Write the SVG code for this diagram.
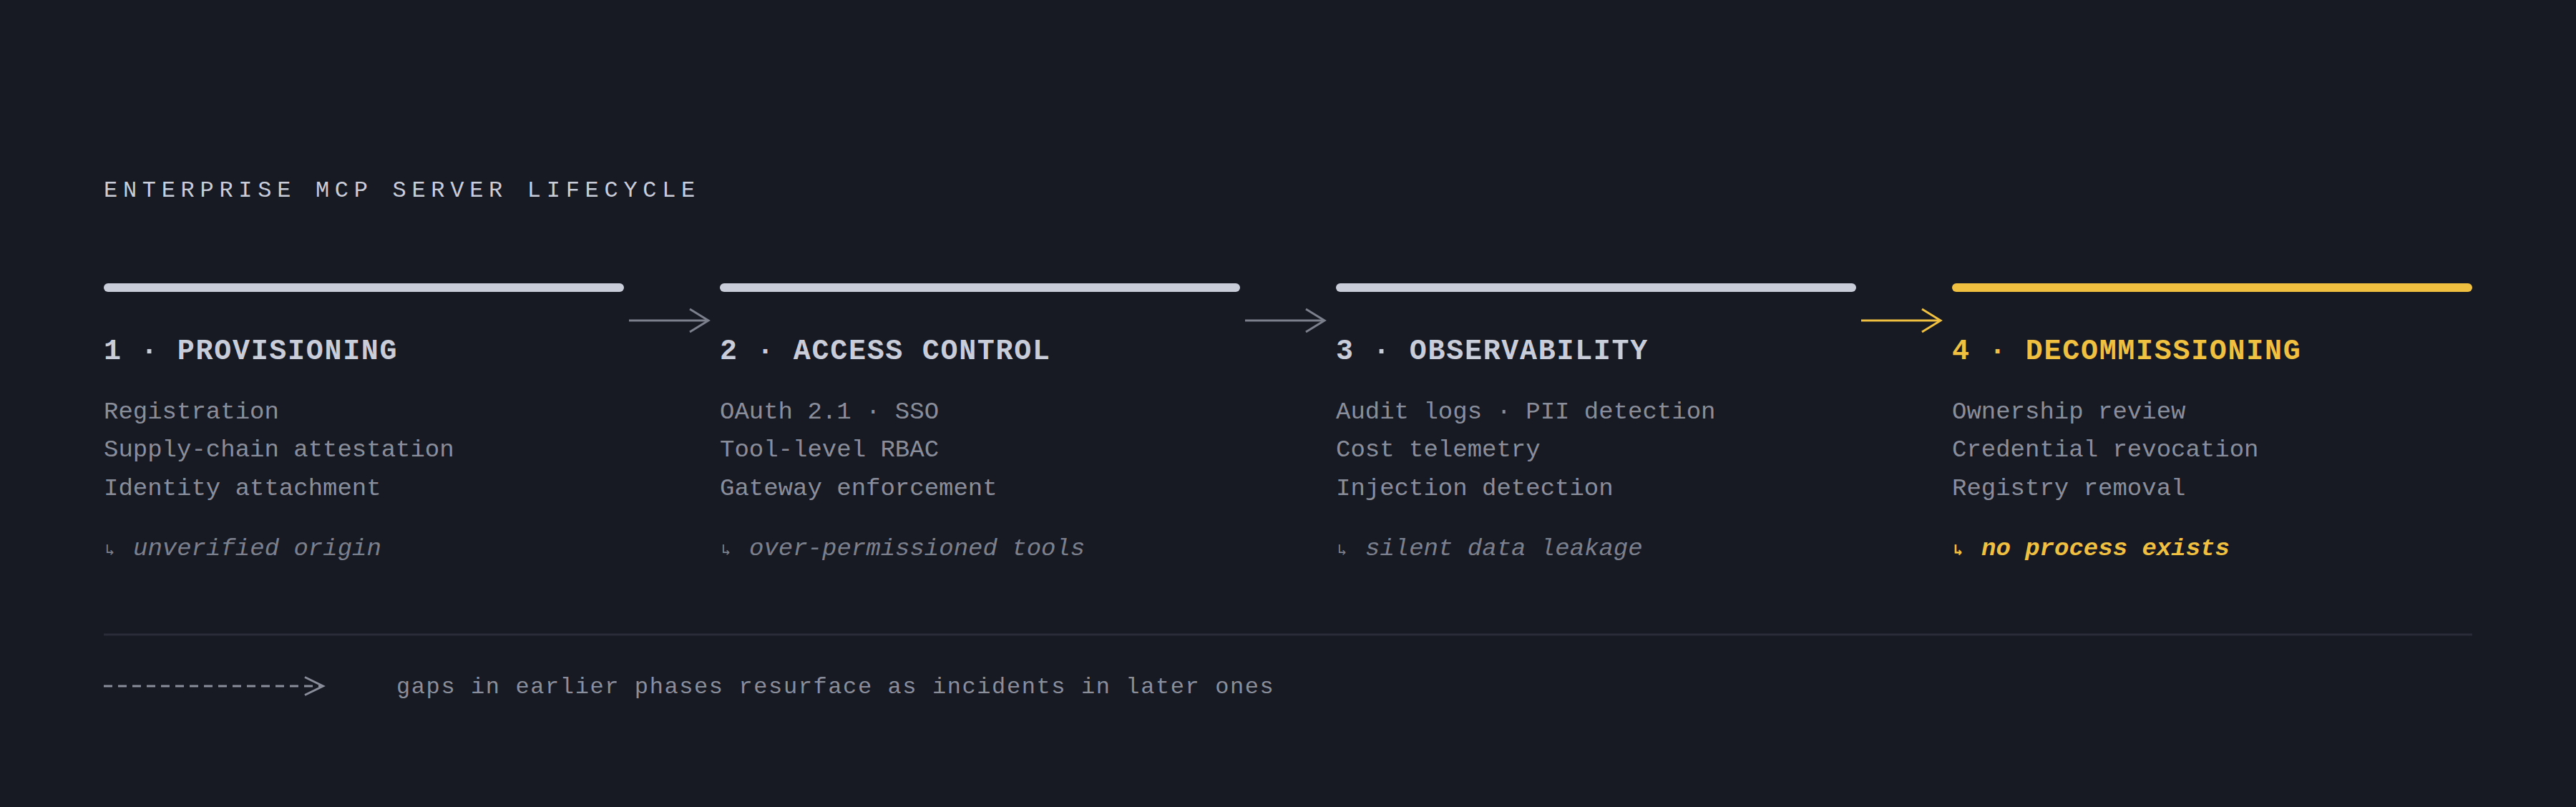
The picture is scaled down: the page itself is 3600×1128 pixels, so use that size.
<svg xmlns="http://www.w3.org/2000/svg" width="3600" height="1128" viewBox="0 0 3600 1128">
  <style>
    .mono { font-family: "Liberation Mono", "DejaVu Sans Mono", monospace; }
    .title { font-size: 32px; letter-spacing: 7.7px; fill: #c9cdd9; }
    .bar { fill: #c9cdd9; }
    .bar.hot { fill: #f0c040; }
    .head { font-size: 40px; font-weight: bold; letter-spacing: 1.7px; fill: #c9cdd9; }
    .head.hot { fill: #f0c040; }
    .body { font-size: 34px; fill: #8a8e9b; }
    .risk { font-size: 34px; font-style: italic; fill: #7c808d; }
    .risk.hot { fill: #f0c040; font-weight: bold; }
    .hook { font-size: 22px; font-style: normal; }
    .conn { fill: none; stroke: #7c808d; stroke-width: 3; }
    .conn.hot { stroke: #f0c040; }
    .foot { font-size: 32px; letter-spacing: 1.6px; fill: #8a8e9b; }
  </style>
  <rect x="0" y="0" width="3600" height="1128" fill="#171923"/>

  <text id="title" class="mono title" x="145" y="275">ENTERPRISE MCP SERVER LIFECYCLE</text>

  <g id="phase-1">
    <rect class="bar" x="145" y="396" width="727" height="12" rx="6"/>
    <text class="mono head" x="145" y="502">1 · PROVISIONING</text>
    <text class="mono body" x="145" y="585">Registration</text>
    <text class="mono body" x="145" y="638">Supply-chain attestation</text>
    <text class="mono body" x="145" y="692">Identity attachment</text>
    <text class="mono risk" y="776"><tspan class="hook" x="147">↳</tspan><tspan x="186">unverified origin</tspan></text>
  </g>

  <g id="phase-2">
    <rect class="bar" x="1006" y="396" width="727" height="12" rx="6"/>
    <text class="mono head" x="1006" y="502">2 · ACCESS CONTROL</text>
    <text class="mono body" x="1006" y="585">OAuth 2.1 · SSO</text>
    <text class="mono body" x="1006" y="638">Tool-level RBAC</text>
    <text class="mono body" x="1006" y="692">Gateway enforcement</text>
    <text class="mono risk" y="776"><tspan class="hook" x="1008">↳</tspan><tspan x="1047">over-permissioned tools</tspan></text>
  </g>

  <g id="phase-3">
    <rect class="bar" x="1867" y="396" width="727" height="12" rx="6"/>
    <text class="mono head" x="1867" y="502">3 · OBSERVABILITY</text>
    <text class="mono body" x="1867" y="585">Audit logs · PII detection</text>
    <text class="mono body" x="1867" y="638">Cost telemetry</text>
    <text class="mono body" x="1867" y="692">Injection detection</text>
    <text class="mono risk" y="776"><tspan class="hook" x="1869">↳</tspan><tspan x="1908">silent data leakage</tspan></text>
  </g>

  <g id="phase-4">
    <rect class="bar hot" x="2728" y="396" width="727" height="12" rx="6"/>
    <text class="mono head hot" x="2728" y="502">4 · DECOMMISSIONING</text>
    <text class="mono body" x="2728" y="585">Ownership review</text>
    <text class="mono body" x="2728" y="638">Credential revocation</text>
    <text class="mono body" x="2728" y="692">Registry removal</text>
    <text class="mono risk hot" y="776"><tspan class="hook" x="2730">↳</tspan><tspan x="2769">no process exists</tspan></text>
  </g>

  <g id="connectors">
    <line class="conn" x1="879" y1="448" x2="989" y2="448"/>
    <polyline class="conn" points="964,432 990,448 964,464"/>
    <line class="conn" x1="1740" y1="448" x2="1850" y2="448"/>
    <polyline class="conn" points="1825,432 1851,448 1825,464"/>
    <line class="conn hot" x1="2601" y1="448" x2="2711" y2="448"/>
    <polyline class="conn hot" points="2686,432 2712,448 2686,464"/>
  </g>

  <g id="footer">
    <line x1="145" y1="887" x2="3455" y2="887" stroke="#2a2d38" stroke-width="3"/>
    <line x1="145" y1="959" x2="448" y2="959" stroke="#8a8e9b" stroke-width="3" stroke-dasharray="12 8"/>
    <polyline points="426,946.5 451.5,959 426,971.5" fill="none" stroke="#8a8e9b" stroke-width="3"/>
    <text class="mono foot" x="554" y="969">gaps in earlier phases resurface as incidents in later ones</text>
  </g>
</svg>
